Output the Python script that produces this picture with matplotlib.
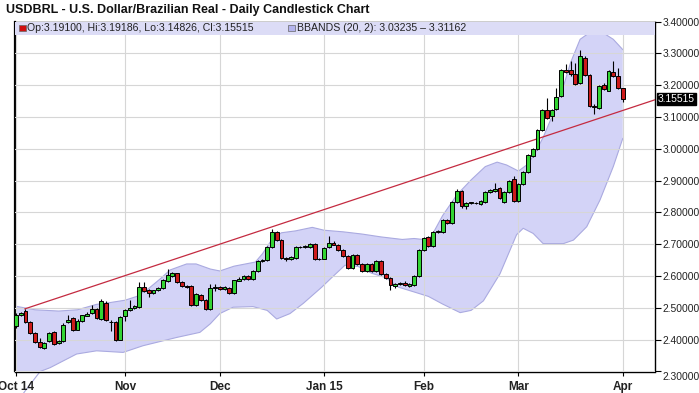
import matplotlib
matplotlib.use("Agg")
import matplotlib.pyplot as plt
import matplotlib.transforms as mtransforms
from matplotlib.patches import Rectangle
import numpy as np

# daily bars, Oct 1 2014 .. Apr 1 2015 (trading-day index)
opens = [2.442, 2.478, 2.490, 2.455, 2.421, 2.392, 2.375, 2.395, 2.423, 2.391,
         2.395, 2.455, 2.469, 2.432, 2.460, 2.476, 2.485, 2.497, 2.465, 2.516,
         2.457, 2.455, 2.400, 2.473, 2.492, 2.500, 2.503, 2.566, 2.557, 2.548,
         2.555, 2.563, 2.585, 2.600, 2.608, 2.582, 2.569, 2.570, 2.510, 2.540,
         2.526, 2.497, 2.563, 2.567, 2.558, 2.563, 2.547, 2.586, 2.590, 2.599,
         2.592, 2.615, 2.646, 2.650, 2.691, 2.737, 2.713, 2.655, 2.653, 2.658,
         2.692, 2.691, 2.692, 2.702, 2.653, 2.655, 2.692, 2.704, 2.699, 2.681,
         2.662, 2.625, 2.667, 2.639, 2.615, 2.637, 2.615, 2.647, 2.607, 2.595,
         2.568, 2.576, 2.579, 2.569, 2.573, 2.600, 2.681, 2.723, 2.694, 2.738,
         2.739, 2.776, 2.767, 2.832, 2.867, 2.820, 2.830, 2.829, 2.826, 2.834,
         2.865, 2.867, 2.876, 2.832, 2.865, 2.904, 2.837, 2.889, 2.926, 2.976,
         2.999, 3.060, 3.123, 3.102, 3.126, 3.165, 3.249, 3.247, 3.234, 3.207,
         3.285, 3.232, 3.134, 3.128, 3.202, 3.183, 3.242, 3.228, 3.191]
highs = [2.484, 2.486, 2.497, 2.458, 2.424, 2.404, 2.393, 2.424, 2.427, 2.400,
         2.452, 2.478, 2.472, 2.464, 2.479, 2.487, 2.508, 2.500, 2.529, 2.520,
         2.462, 2.458, 2.475, 2.495, 2.526, 2.508, 2.582, 2.580, 2.560, 2.557,
         2.564, 2.590, 2.621, 2.612, 2.611, 2.585, 2.573, 2.573, 2.546, 2.543,
         2.529, 2.574, 2.575, 2.570, 2.568, 2.566, 2.589, 2.596, 2.603, 2.602,
         2.618, 2.649, 2.655, 2.693, 2.747, 2.742, 2.716, 2.660, 2.663, 2.695,
         2.695, 2.696, 2.705, 2.705, 2.658, 2.692, 2.725, 2.710, 2.702, 2.684,
         2.665, 2.670, 2.670, 2.642, 2.642, 2.640, 2.650, 2.650, 2.610, 2.598,
         2.579, 2.582, 2.583, 2.577, 2.603, 2.684, 2.724, 2.727, 2.740, 2.745,
         2.779, 2.779, 2.835, 2.872, 2.870, 2.834, 2.834, 2.834, 2.839, 2.868,
         2.874, 2.893, 2.880, 2.868, 2.903, 2.913, 2.892, 2.929, 2.982, 3.003,
         3.063, 3.126, 3.160, 3.126, 3.190, 3.250, 3.268, 3.276, 3.270, 3.311,
         3.290, 3.236, 3.140, 3.200, 3.206, 3.247, 3.275, 3.255, 3.19186]
lows = [2.436, 2.474, 2.452, 2.418, 2.389, 2.373, 2.371, 2.393, 2.383, 2.387,
        2.392, 2.451, 2.428, 2.430, 2.457, 2.473, 2.482, 2.465, 2.462, 2.459,
        2.427, 2.397, 2.398, 2.458, 2.489, 2.497, 2.500, 2.551, 2.535, 2.545,
        2.552, 2.560, 2.582, 2.597, 2.579, 2.566, 2.562, 2.507, 2.507, 2.523,
        2.494, 2.494, 2.552, 2.555, 2.555, 2.544, 2.544, 2.583, 2.587, 2.589,
        2.589, 2.612, 2.643, 2.647, 2.688, 2.710, 2.652, 2.646, 2.650, 2.655,
        2.689, 2.688, 2.687, 2.650, 2.649, 2.652, 2.689, 2.696, 2.678, 2.659,
        2.622, 2.622, 2.636, 2.612, 2.612, 2.612, 2.612, 2.604, 2.592, 2.555,
        2.563, 2.573, 2.568, 2.566, 2.570, 2.597, 2.678, 2.691, 2.691, 2.735,
        2.736, 2.764, 2.764, 2.829, 2.815, 2.811, 2.827, 2.826, 2.823, 2.831,
        2.862, 2.864, 2.841, 2.829, 2.862, 2.834, 2.834, 2.886, 2.923, 2.973,
        2.996, 3.057, 3.094, 3.088, 3.123, 3.162, 3.238, 3.230, 3.200, 3.204,
        3.229, 3.132, 3.110, 3.125, 3.185, 3.180, 3.225, 3.189, 3.14826]
closes = [2.478, 2.483, 2.455, 2.421, 2.392, 2.378, 2.390, 2.421, 2.388, 2.397,
          2.447, 2.463, 2.432, 2.460, 2.476, 2.481, 2.497, 2.468, 2.520, 2.462,
          2.455, 2.400, 2.471, 2.492, 2.500, 2.505, 2.566, 2.553, 2.548, 2.555,
          2.562, 2.587, 2.603, 2.608, 2.582, 2.569, 2.566, 2.510, 2.543, 2.526,
          2.497, 2.563, 2.565, 2.558, 2.565, 2.547, 2.586, 2.592, 2.599, 2.592,
          2.615, 2.646, 2.651, 2.690, 2.737, 2.713, 2.658, 2.654, 2.660, 2.692,
          2.691, 2.693, 2.702, 2.653, 2.655, 2.689, 2.705, 2.699, 2.681, 2.662,
          2.626, 2.667, 2.639, 2.615, 2.639, 2.615, 2.647, 2.607, 2.595, 2.571,
          2.576, 2.578, 2.571, 2.574, 2.600, 2.681, 2.721, 2.694, 2.737, 2.741,
          2.776, 2.767, 2.832, 2.867, 2.820, 2.831, 2.831, 2.831, 2.836, 2.865,
          2.870, 2.873, 2.844, 2.865, 2.900, 2.837, 2.889, 2.926, 2.979, 3.000,
          3.060, 3.123, 3.097, 3.123, 3.163, 3.247, 3.242, 3.234, 3.204, 3.292,
          3.232, 3.136, 3.131, 3.197, 3.188, 3.244, 3.228, 3.192, 3.15515]

# Bollinger bands (20, 2) at sample bars
upper_x = [0, 4, 9, 13, 17, 20, 23, 25.5, 28, 30.5, 32.5, 36, 38, 41, 43, 46,
           50.5, 52, 54, 56, 59, 62.5, 65, 69, 73, 77, 81.5, 84, 87, 88, 90, 93,
           96, 99, 101.5, 103.5, 106, 108, 109.5, 111.3, 113.4, 115.5, 117, 119,
           121, 124, 126, 128]
upper_y = [2.505, 2.494, 2.490, 2.494, 2.511, 2.517, 2.524, 2.536, 2.561, 2.592,
           2.619, 2.638, 2.638, 2.622, 2.616, 2.631, 2.644, 2.670, 2.715, 2.736,
           2.742, 2.753, 2.744, 2.739, 2.732, 2.723, 2.715, 2.718, 2.713, 2.735,
           2.790, 2.855, 2.902, 2.944, 2.958, 2.949, 2.930, 2.952, 2.986, 3.039,
           3.113, 3.197, 3.271, 3.344, 3.365, 3.363, 3.344, 3.31162]
lower_x = [0, 2, 5.1, 7.2, 12.8, 17, 22.6, 26.8, 33.9, 38.8, 41, 43, 45.8, 50,
           53, 55, 57.8, 60.6, 64.5, 66.6, 69.4, 72.2, 75, 78, 80.7, 84.2, 87,
           90, 93.7, 96, 98.6, 102.1, 105.6, 107, 109.1, 111.2, 115.5, 117.6,
           120.4, 123.2, 126, 128]
lower_y = [2.200, 2.240, 2.300, 2.312, 2.355, 2.365, 2.360, 2.381, 2.407, 2.423,
           2.450, 2.482, 2.502, 2.504, 2.492, 2.465, 2.482, 2.514, 2.565, 2.595,
           2.634, 2.630, 2.609, 2.595, 2.565, 2.549, 2.536, 2.512, 2.485, 2.492,
           2.522, 2.607, 2.730, 2.750, 2.734, 2.702, 2.702, 2.713, 2.755, 2.839,
           2.944, 3.03235]

# hand-drawn trend line
trend_x = [1.9, 134.8]
trend_y = [2.497, 3.154]

month_pos = [0, 23, 43, 65, 86, 106, 128]
month_labels = ["Oct 14", "Nov", "Dec", "Jan 15", "Feb", "Mar", "Apr"]
price_ticks = [2.3, 2.4, 2.5, 2.6, 2.7, 2.8, 2.9, 3.0, 3.1, 3.2, 3.3, 3.4]


def draw_chart():
    plt.rcParams['font.family'] = ['Liberation Sans', 'DejaVu Sans']
    fig = plt.figure(figsize=(6.99, 3.93), dpi=100)
    ax = fig.add_axes([15 / 699, (393 - 371.5) / 393, 640 / 699, 350 / 393])
    ax.set_xlim(-0.2, 134.8)
    ax.set_ylim(2.30, 3.40)

    # bands: shared x grid only for the fill region
    xs = np.union1d(upper_x, lower_x)
    up = np.interp(xs, upper_x, upper_y)
    lo = np.interp(xs, lower_x, lower_y)
    ax.fill_between(xs, lo, up, facecolor="#c9c9f5", alpha=0.8, lw=0, zorder=1)
    ax.plot(upper_x, upper_y, color="#aaaae0", lw=0.8, zorder=1.5)
    ax.plot(lower_x, lower_y, color="#aaaae0", lw=0.8, zorder=1.5, clip_on=False)

    ax.set_xticks(month_pos, month_labels, fontsize=8.5, fontweight="bold")
    ax.set_yticks(price_ticks, [f"{v:.5f}" for v in price_ticks])
    ax.yaxis.tick_right()
    ax.tick_params(axis="y", labelsize=7.4, length=4, width=0.8, colors="black",
                   labelcolor="#222222", pad=1.5)
    ax.tick_params(axis="x", length=3, width=0.8, pad=4, labelcolor="#222222")
    ax.get_yticklabels()[0].set_verticalalignment("top")
    ax.grid(True, color="#d6d6d6", lw=0.8, zorder=2)
    ax.set_axisbelow(False)
    for sp in ax.spines.values():
        sp.set_color("black")
        sp.set_linewidth(1.0)
    ax.spines["left"].set_linewidth(1.6)

    ax.plot(trend_x, trend_y, color="#c42a40", lw=0.9, zorder=3)

    x = np.arange(len(opens))
    o = np.array(opens)
    c = np.array(closes)
    colors = np.where(c >= o, "#33d433", "#cc1a1a")
    ax.vlines(x, lows, highs, color="black", lw=0.8, zorder=4)
    bottoms = np.minimum(o, c)
    heights = np.maximum(np.abs(c - o), 0.0015)
    ax.bar(x, heights, bottom=bottoms, width=0.8, color=colors,
           edgecolor="black", linewidth=0.7, zorder=5)

    # legend strip across the top of the plot
    ax.add_patch(Rectangle((0, 0.962), 1, 0.038, transform=ax.transAxes,
                           facecolor="#dcdcf6", edgecolor="none", zorder=6))
    ax.add_patch(Rectangle((0.006, 0.972), 0.011, 0.019, transform=ax.transAxes,
                           facecolor="#d01010", edgecolor="#666666", lw=0.5, zorder=7))
    ax.text(0.019, 0.981, f"Op:{opens[-1]:.5f}, Hi:{highs[-1]:.5f}, Lo:{lows[-1]:.5f}, Cl:{closes[-1]:.5f}",
            transform=ax.transAxes, fontsize=7.6, va="center", color="#222222", zorder=7)
    ax.add_patch(Rectangle((0.426, 0.972), 0.011, 0.019, transform=ax.transAxes,
                           facecolor="#b4b4ee", edgecolor="#666666", lw=0.5, zorder=7))
    ax.text(0.441, 0.981, f"BBANDS (20, 2): {lower_y[-1]:.5f} \u2013 {upper_y[-1]:.5f}",
            transform=ax.transAxes, fontsize=7.6, va="center", color="#222222", zorder=7)

    # last close tag on the price axis
    trans = mtransforms.blended_transform_factory(ax.transAxes, ax.transData)
    ax.text(1.004, closes[-1], f"{closes[-1]:.5f}", transform=trans, fontsize=7.4,
            va="center", ha="left", color="white", zorder=8,
            bbox=dict(boxstyle="square,pad=0.1", facecolor="black", edgecolor="black"))

    fig.text(6 / 699, 1 - 9.5 / 393, "USDBRL - U.S. Dollar/Brazilian Real - Daily Candlestick Chart",
             fontsize=9, fontweight="bold", va="center", color="#111111")
    fig.savefig("out.png", dpi=100)


def main():
    draw_chart()


if __name__ == "__main__":
    main()
